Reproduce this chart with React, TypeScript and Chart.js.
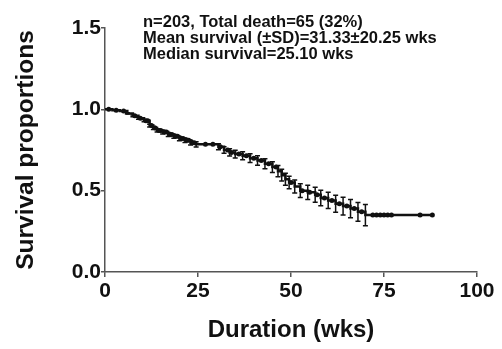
import React, { useEffect, useRef } from "react";
import { Chart, registerables } from "chart.js";

Chart.register(...registerables);

// Kaplan-Meier step points (time in weeks, survival proportion)
const stepTimes = [0, 2, 4, 6, 7.5, 9, 10.5, 12, 13, 14, 15.5, 17, 18.5, 20, 21.5, 23, 24.5, 30.5, 32, 33.5, 35, 37, 39, 41, 43, 45, 46.5, 47.5, 48.5, 49.5, 51, 52.5, 54.5, 56.5, 58, 60, 62, 64, 66, 68, 70, 88];
const stepSurvival = [1.0, 0.995, 0.99, 0.975, 0.96, 0.945, 0.93, 0.9, 0.885, 0.87, 0.86, 0.845, 0.835, 0.82, 0.81, 0.795, 0.785, 0.77, 0.75, 0.735, 0.725, 0.715, 0.7, 0.685, 0.665, 0.645, 0.62, 0.595, 0.57, 0.55, 0.525, 0.5, 0.49, 0.475, 0.455, 0.44, 0.42, 0.405, 0.39, 0.37, 0.35, 0.35];
// standard error for each step point
const stepError = [0, 0, 0, 0.004, 0.005, 0.006, 0.007, 0.008, 0.009, 0.01, 0.011, 0.012, 0.012, 0.013, 0.014, 0.015, 0.016, 0.018, 0.02, 0.022, 0.024, 0.025, 0.027, 0.029, 0.031, 0.033, 0.035, 0.036, 0.037, 0.038, 0.04, 0.042, 0.044, 0.046, 0.048, 0.05, 0.052, 0.054, 0.056, 0.058, 0.065, 0];
// censored observation times
const censorTimes = [1, 3, 5, 8, 9.5, 11, 11.5, 12.5, 13.5, 14.5, 15, 16, 16.5, 17.5, 18, 19, 19.5, 20.5, 21, 22, 22.5, 23.5, 24, 27, 29, 31, 33, 34, 36, 38, 40, 42, 44, 46, 50, 53, 55, 57, 59, 61, 63, 65, 67, 69, 72, 73, 74, 75, 76, 77, 84.7, 88];

const xTicks = [0, 25, 50, 75, 100];
const yTicks = [0, 0.5, 1.0, 1.5];

const annotationLines = [
  "n=203, Total death=65 (32%)",
  "Mean survival (\u00b1SD)=31.33\u00b120.25 wks",
  "Median survival=25.10 wks",
];

const FONT = "'Liberation Sans', Arial, Helvetica, sans-serif";

function survivalAt(t: number): number {
  let s = stepSurvival[0];
  for (let i = 0; i < stepTimes.length; i++) {
    if (stepTimes[i] <= t) s = stepSurvival[i];
  }
  return s;
}

export default function App() {
  const ref = useRef<HTMLCanvasElement>(null);
  useEffect(() => {
    document.body.style.margin = "0";
    const canvas = ref.current!;
    const errorBarPlugin = {
      id: "errorBars",
      afterDatasetsDraw(chart: any) {
        const { ctx, scales } = chart;
        const xs = scales.x, ys = scales.y;
        ctx.save();
        ctx.strokeStyle = "#111";
        ctx.lineWidth = 1.5;
        for (let i = 0; i < stepTimes.length; i++) {
          const e = stepError[i];
          if (!e) continue;
          const px = xs.getPixelForValue(stepTimes[i]);
          const top = ys.getPixelForValue(stepSurvival[i] + e);
          const bot = ys.getPixelForValue(stepSurvival[i] - e);
          ctx.beginPath();
          ctx.moveTo(px, top);
          ctx.lineTo(px, bot);
          ctx.moveTo(px - 2.5, top);
          ctx.lineTo(px + 2.5, top);
          ctx.moveTo(px - 2.5, bot);
          ctx.lineTo(px + 2.5, bot);
          ctx.stroke();
        }
        ctx.restore();
      },
    };
    const annotationPlugin = {
      id: "annot",
      afterDraw(chart: any) {
        const { ctx, chartArea } = chart;
        ctx.save();
        ctx.fillStyle = "#111";
        ctx.font = `bold 16.5px ${FONT}`;
        ctx.textBaseline = "middle";
        ctx.textAlign = "left";
        annotationLines.forEach((l, i) => {
          ctx.fillText(l, chartArea.left + 38, 22 + i * 16);
        });
        ctx.restore();
      },
    };
    const chart = new Chart(canvas, {
      type: "line",
      data: {
        datasets: [
          {
            label: "KM",
            data: stepTimes.map((t, i) => ({ x: t, y: stepSurvival[i] })),
            stepped: "before",
            borderColor: "#111",
            borderWidth: 2.5,
            pointRadius: 0,
            fill: false,
          },
          {
            label: "Censored",
            data: censorTimes.map((t) => ({ x: t, y: survivalAt(t) })),
            showLine: false,
            pointRadius: 2.5,
            pointBackgroundColor: "#111",
            pointBorderColor: "#111",
            pointBorderWidth: 0,
          },
        ],
      },
      options: {
        animation: false,
        responsive: false,
        layout: { padding: { top: 28, right: 25, left: 0, bottom: 0 } },
        plugins: { legend: { display: false }, tooltip: { enabled: false } },
        scales: {
          x: {
            type: "linear",
            min: 0,
            max: 100,
            afterBuildTicks: (s: any) => { s.ticks = xTicks.map((v) => ({ value: v })); },
            afterFit: (s: any) => { s.height = 77; },
            grid: { display: true, drawOnChartArea: false, drawTicks: true, tickLength: 5, color: "#555", lineWidth: 1.5 },
            border: { display: true, color: "#555", width: 1.5 },
            ticks: { color: "#111", font: { family: FONT, size: 21, weight: "bold" }, padding: 2, maxRotation: 0 },
            title: { display: true, text: "Duration (wks)", color: "#111", font: { family: FONT, size: 24, weight: "bold" }, padding: { top: 0, bottom: 4 } },
          },
          y: {
            type: "linear",
            min: 0,
            max: 1.5,
            afterBuildTicks: (s: any) => { s.ticks = yTicks.map((v) => ({ value: v })); },
            afterFit: (s: any) => { s.width = 105; },
            grid: { display: true, drawOnChartArea: false, drawTicks: true, tickLength: 4, color: "#555", lineWidth: 1.5 },
            border: { display: true, color: "#555", width: 1.5 },
            ticks: { color: "#111", font: { family: FONT, size: 21, weight: "bold" }, padding: 0, callback: (v: any) => Number(v).toFixed(1) },
            title: { display: true, text: "Survival proportions", color: "#111", font: { family: FONT, size: 24.5, weight: "bold" }, padding: { top: 12, bottom: 0 } },
          },
        },
      },
      plugins: [errorBarPlugin, annotationPlugin],
    });
    return () => chart.destroy();
  }, []);
  return <canvas ref={ref} width={502} height={349} style={{ display: "block" }} />;
}
